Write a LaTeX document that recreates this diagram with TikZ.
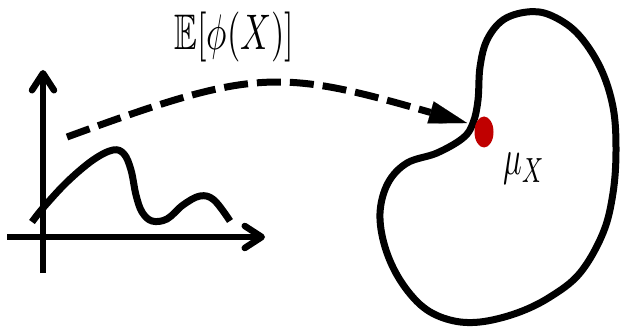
\documentclass[tikz,border=0pt]{standalone}
\usepackage{amssymb}
\usepackage{graphicx}
\usetikzlibrary{arrows.meta,shapes.geometric}
\definecolor{dotred}{HTML}{C00000}
\begin{document}
\begin{tikzpicture}[x=1pt,y=-1pt,
  axisline/.style={line width=6.5pt,-{Straight Barb[length=17pt,width=22pt,round]}},
  thickcurve/.style={line width=7pt,line join=round},
  dasharrow/.style={line width=7pt,dash pattern=on 24pt off 9pt,
    -{Triangle[length=38pt,width=23pt,line width=0.1pt]}},
  lbl/.style={inner sep=0pt,outer sep=0pt}]
\useasboundingbox (0,0) rectangle (620,328);
% axes
\coordinate (yb) at (43,273);
\coordinate (yt) at (43,70);
\coordinate (xl) at (7,237);
\coordinate (xr) at (265,237);
\draw[axisline] (yb) -- (yt);
\draw[axisline] (xl) -- (xr);
% function
\draw[thickcurve] plot[smooth,tension=0.6] coordinates {(32,222) (43,208) (67,182) (93,160) (113,150) (124,154) (131,170) (136,195) (142,212) (152,221) (167,219) (183,205) (200,196) (214,200) (230,221)};
% blob
\draw[thickcurve] plot[smooth cycle,tension=0.6] coordinates {(527,12) (503,20) (487,40) (480,67) (478,100) (473,123) (463,138) (437,153) (407,163) (388,183) (380,213) (385,247) (400,280) (423,307) (450,320) (480,322) (517,313) (550,297) (580,273) (603,233) (613,193) (616,150) (613,107) (600,67) (577,33) (550,15)};
% red dot
\node[lbl,ellipse,fill=dotred,minimum width=19pt,minimum height=31pt] (mu) at (484,132) {};
\node[lbl,anchor=base west] (mulabel) at (503,175) {\scalebox{3.1}[5]{$\mu_X$}};
% dashed arrow
\coordinate (ds) at (67,137);
\coordinate (dt) at (467,123);
\draw[dasharrow] (ds) .. controls (253,69) and (277,68) .. (dt);
% top label
\node[lbl,anchor=base] (ex) at (234.5,49.5) {\scalebox{3.42}[5]{$\mathbb{E}[\phi(X)]$}};
\end{tikzpicture}
\end{document}
